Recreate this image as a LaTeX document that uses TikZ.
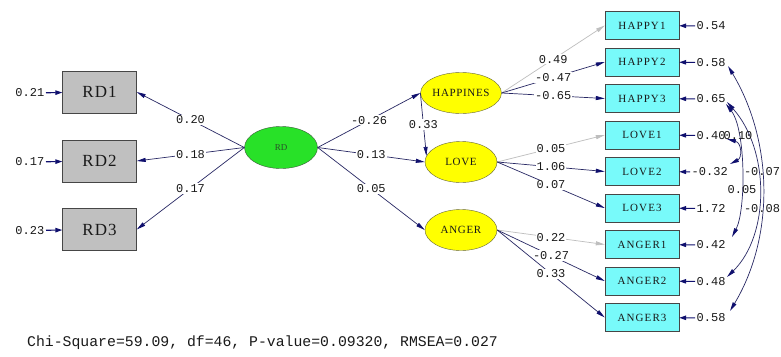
\documentclass[tikz,border=0pt]{standalone}
\usepackage{fontspec}
\setmainfont{Liberation Serif}
\newfontfamily\monof{Liberation Mono}
\newfontfamily\boxf[LetterSpace=10]{Liberation Serif}
\newfontfamily\ellf[LetterSpace=6]{Liberation Serif}
\newfontfamily\rdf[LetterSpace=6]{Liberation Serif}
\usetikzlibrary{arrows.meta,shapes.geometric}
\definecolor{navy}{RGB}{16,16,110}
\definecolor{lnc}{RGB}{40,40,100}
\definecolor{grayarr}{RGB}{190,190,190}
\definecolor{boxgray}{RGB}{192,192,192}
\definecolor{boxedge}{RGB}{70,70,70}
\definecolor{cyanbox}{RGB}{120,250,250}
\definecolor{yel}{RGB}{255,255,0}
\definecolor{grn}{RGB}{40,225,40}
\definecolor{rdtext}{RGB}{40,80,40}
\definecolor{txt}{RGB}{25,25,25}
\begin{document}
\begin{tikzpicture}[x=1pt,y=-1pt,
  obsL/.style={draw=boxedge, fill=boxgray, minimum width=74pt, minimum height=42pt, inner sep=0pt, text=txt, font=\rdf\fontsize{17}{17}\selectfont},
  obsR/.style={draw=boxedge, fill=cyanbox, minimum width=74pt, minimum height=28pt, inner sep=0pt, text=txt, font=\boxf\fontsize{11}{11}\selectfont},
  laty/.style={ellipse, draw={rgb,255:red,100;green,100;blue,60}, fill=yel, minimum width=72pt, minimum height=41pt, inner sep=0pt, text=txt, font=\ellf\fontsize{11}{11}\selectfont},
  latg/.style={ellipse, draw={rgb,255:red,60;green,90;blue,60}, fill=grn, minimum width=73pt, minimum height=42pt, inner sep=0pt, font=\fontsize{9}{9}\selectfont, text=rdtext},
  errlbl/.style={font=\monof\fontsize{12}{12}\selectfont, inner sep=1.5pt, text=txt},
  plbl/.style={font=\monof\fontsize{12}{12}\selectfont, fill=white, inner sep=1pt, midway, text=txt},
  clbl/.style={font=\monof\fontsize{12}{12}\selectfont, inner sep=0pt, text=txt},
  pth/.style={draw=lnc, line width=0.7pt, -{Triangle[length=9pt,width=4pt,color=navy,fill=navy]}},
  gpth/.style={draw=grayarr, line width=0.7pt, -{Triangle[length=9pt,width=4pt,color=grayarr,fill=grayarr]}},
  errarr/.style={draw=navy, line width=1.1pt, -{Triangle[length=7pt,width=4.5pt,color=navy,fill=navy]}},
  corr/.style={draw=lnc, line width=0.7pt, {Triangle[length=9pt,width=4pt,color=navy,fill=navy]}-{Triangle[length=9pt,width=4pt,color=navy,fill=navy]}}
]
\useasboundingbox (0,0) rectangle (781,356);
\fill[white] (0,0) rectangle (781,356);

% observed RD boxes
\node[obsL] (RD1) at (99.5,92) {RD1};
\node[obsL] (RD2) at (99.5,161) {RD2};
\node[obsL] (RD3) at (99.5,229.5) {RD3};

% latent variables
\node[latg] (RD) at (281,147.5) {RD};
\node[laty] (HAP) at (461,93) {HAPPINES};
\node[laty] (LOV) at (461,162) {LOVE};
\node[laty] (ANG) at (461,230) {ANGER};

% observed right boxes
\node[obsR] (H1) at (642,25.5) {HAPPY1};
\node[obsR] (H2) at (642,62) {HAPPY2};
\node[obsR] (H3) at (642,98.5) {HAPPY3};
\node[obsR] (L1) at (642,135) {LOVE1};
\node[obsR] (L2) at (642,171.5) {LOVE2};
\node[obsR] (L3) at (642,208) {LOVE3};
\node[obsR] (A1) at (642,244.5) {ANGER1};
\node[obsR] (A2) at (642,281) {ANGER2};
\node[obsR] (A3) at (642,317.5) {ANGER3};

% error labels left
\node[errlbl, anchor=east] (e1) at (46,93) {0.21};
\node[errlbl, anchor=east] (e2) at (46,162) {0.17};
\node[errlbl, anchor=east] (e3) at (46,230.5) {0.23};
\draw[errarr] (e1) -- (RD1);
\draw[errarr] (e2) -- (RD2);
\draw[errarr] (e3) -- (RD3);

% error labels right
\node[errlbl, anchor=west] (eH1) at (695,26) {0.54};
\node[errlbl, anchor=west] (eH2) at (695,62.5) {0.58};
\node[errlbl, anchor=west] (eH3) at (695,99) {0.65};
\node[errlbl, anchor=west] (eL1) at (695,135.5) {0.40};
\node[errlbl, anchor=west] (eL2) at (690,172) {-0.32};
\node[errlbl, anchor=west] (eL3) at (695,208.5) {1.72};
\node[errlbl, anchor=west] (eA1) at (695,245) {0.42};
\node[errlbl, anchor=west] (eA2) at (695,281.5) {0.48};
\node[errlbl, anchor=west] (eA3) at (695,318) {0.58};
\foreach \e/\b in {eH1/H1,eH2/H2,eH3/H3,eL1/L1,eL2/L2,eL3/L3,eA1/A1,eA2/A2,eA3/A3}
  \draw[errarr] (\e) -- (\b);

% RD loadings
\draw[pth] (RD.west) -- node[plbl]{0.20} (RD1.east);
\draw[pth] (RD.west) -- node[plbl]{0.18} (RD2.east);
\draw[pth] (RD.west) -- node[plbl]{0.17} (RD3.east);

% structural paths
\draw[pth] (RD.east) -- node[plbl]{-0.26} (HAP.west);
\draw[pth] (RD.east) -- node[plbl]{0.13} (LOV.west);
\draw[pth] (RD.east) -- node[plbl]{0.05} (ANG.west);
\draw[pth] (HAP.west) -- node[plbl, pos=0.5]{0.33} (LOV.170);

% HAPPINES loadings
\draw[gpth] (HAP.east) -- node[plbl]{0.49} (H1.west);
\draw[pth] (HAP.east) -- node[plbl]{-0.47} (H2.west);
\draw[pth] (HAP.east) -- node[plbl]{-0.65} (H3.west);
% LOVE loadings
\draw[gpth] (LOV.east) -- node[plbl]{0.05} (L1.west);
\draw[pth] (LOV.east) -- node[plbl]{1.06} (L2.west);
\draw[pth] (LOV.east) -- node[plbl]{0.07} (L3.west);
% ANGER loadings
\draw[gpth] (ANG.east) -- node[plbl]{0.22} (A1.west);
\draw[pth] (ANG.east) -- node[plbl]{-0.27} (A2.west);
\draw[pth] (ANG.east) -- node[plbl]{0.33} (A3.west);

% error covariances
\coordinate (cH2) at (728,66);
\coordinate (cA3) at (730,311);
\coordinate (cH3a) at (727,102);
\coordinate (cA2) at (727,277);
\coordinate (cH3b) at (726,104);
\coordinate (cA1) at (732,237);
\coordinate (cL1) at (727,139);
\coordinate (cL2) at (730,164);
\draw[corr] (cH2) .. controls (773,141) and (775,236) .. (cA3);
\draw[corr] (cH3a) .. controls (770,150) and (770,235) .. (cA2);
\draw[corr] (cH3b) .. controls (746,130) and (746,210) .. (cA1);
\draw[corr] (cL1) .. controls (742,143) and (742,158) .. (cL2);
\node[clbl] (k1) at (762,172) {-0.07};
\node[clbl] (k2) at (742,190) {0.05};
\node[clbl] (k3) at (762,208.5) {-0.08};
\node[clbl] (k4) at (738,135.5) {0.10};

% fit statistics
\node[font=\monof\fontsize{14.8}{14.8}\selectfont, anchor=west, inner sep=0pt, text=txt] (fit) at (27,343) {Chi-Square=59.09, df=46, P-value=0.09320, RMSEA=0.027};
\end{tikzpicture}
\end{document}
